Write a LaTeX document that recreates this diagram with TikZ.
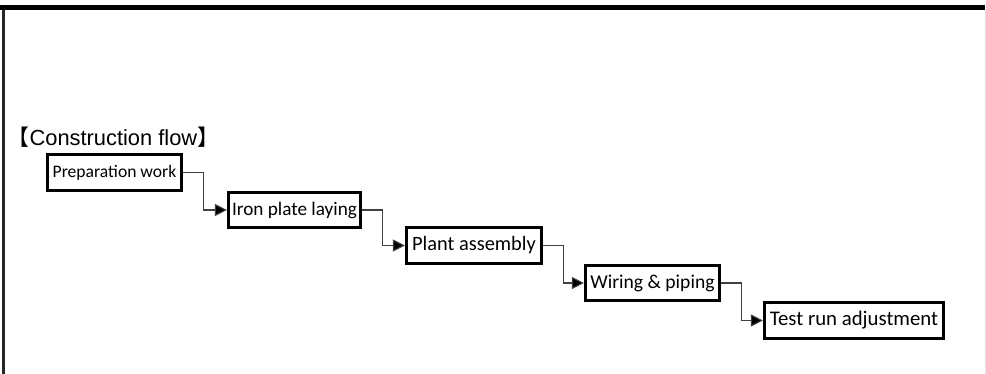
\documentclass[tikz,border=0pt]{standalone}
\usepackage{fontspec}
\setmainfont{Liberation Sans}
\newfontfamily\boxfont{Carlito}
\newfontfamily\cjkfont{Noto Sans CJK JP}
\usetikzlibrary{arrows.meta}

\begin{document}
\begin{tikzpicture}[x=0.75pt, y=-0.75pt,
  stepbox/.style={draw=black, line width=2.4pt, fill=white, inner sep=0pt, minimum height=26.5pt},
  flow/.style={draw=black!75, line width=0.8pt, -{Triangle[length=9pt, width=9pt, fill=black]}},
]
\useasboundingbox (0,0) rectangle (986,374);
% frame
\draw[line width=3.75pt] (0,7.5) -- (985,7.5);
\draw[black!85, line width=2.25pt] (3.5,10) -- (3.5,374);
\draw[black!12, line width=0.6pt] (985.5,10) -- (985.5,374);

\node[anchor=base west, font=\fontsize{16.4}{16.4}\selectfont] (title) at (3,146)
  {{\cjkfont 【}Construction flow{\cjkfont 】}};

\foreach \n/\x/\y/\w/\fs/\t in {%
  prep/114.5/172.5/137/13.2/{Preparation work},
  iron/294.5/210/135/14.4/{Iron plate laying},
  plant/474/245.5/138/15.3/{Plant assembly},
  wiring/652.5/283/137/14.7/{Wiring \& piping},
  test/854/320.5/182/15.6/{Test run adjustment}%
} {
  \node[stepbox, minimum width=(\w-3)*0.75pt, font=\boxfont\fontsize{\fs}{\fs}\selectfont] (\n) at (\x,\y) {\t};
}
\foreach \p/\q in {prep/iron, iron/plant, plant/wiring, wiring/test}
  \draw[flow] (\p.east) -- ++(20,0) |- (\q.west);
\end{tikzpicture}
\end{document}
